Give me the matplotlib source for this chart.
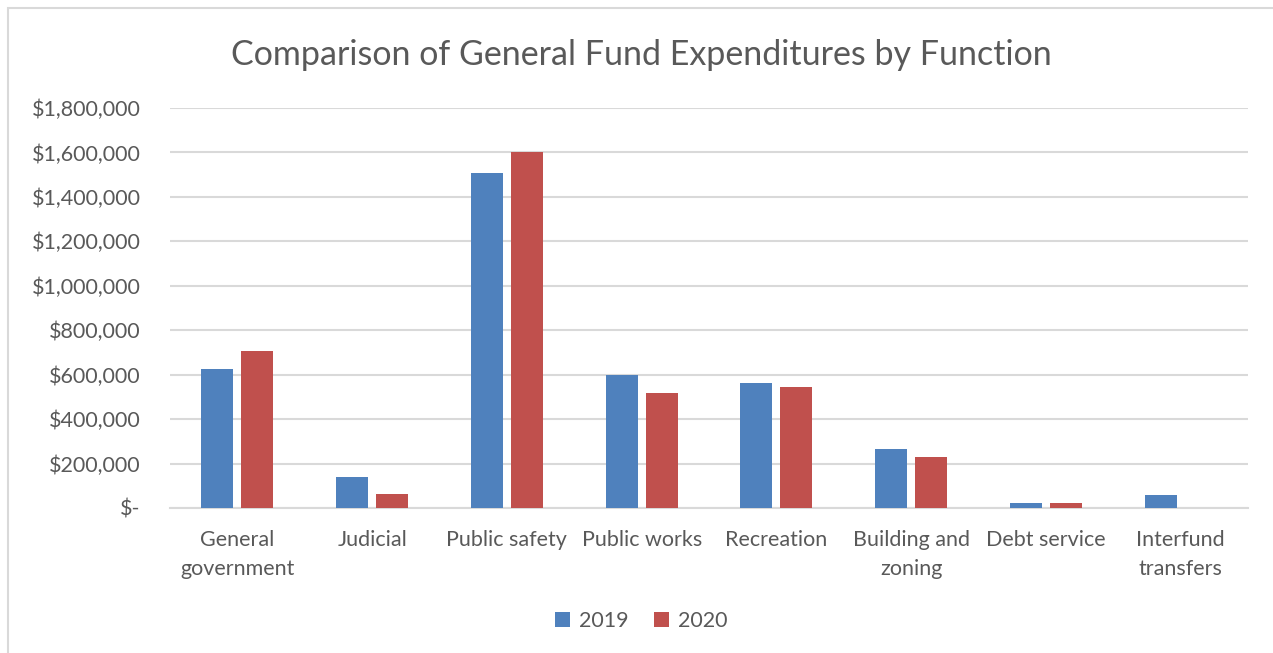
import numpy as np
import matplotlib
matplotlib.use("Agg")
import matplotlib.pyplot as plt
from matplotlib.patches import Rectangle
from matplotlib.ticker import FuncFormatter

plt.rcParams['font.family'] = ['Lato', 'DejaVu Sans']

TEXT = "#595959"
GRID = "#D9D9D9"
BLUE = "#4F81BD"
RED = "#C0504D"

categories = ["General\ngovernment", "Judicial", "Public safety", "Public works",
              "Recreation", "Building and\nzoning", "Debt service", "Interfund\ntransfers"]
y2019 = [626000, 141000, 1506000, 599000, 564000, 264000, 24000, 59000]
y2020 = [708000, 62000, 1604000, 517000, 544000, 229000, 24000, 0]
series_names = ["2019", "2020"]

fig = plt.figure(figsize=(12.73, 6.53), dpi=100)
fig.patch.set_facecolor("white")

# chart border (extends past right/bottom edge like the screenshot)
fig.add_artist(Rectangle((8 / 1273, -0.1), 1.2, 1 - 8 / 653 + 0.1,
                         transform=fig.transFigure, fill=False,
                         edgecolor=GRID, lw=1.5))

ax = fig.add_axes([170 / 1273, 1 - 508 / 653, (1248 - 170) / 1273, 400 / 653])

x = np.arange(len(categories))
w = 0.237
off = 0.148
ax.bar(x - off, y2019, w, color=BLUE, label=series_names[0], zorder=3)
ax.bar(x + off, y2020, w, color=RED, label=series_names[1], zorder=3)

ax.set_xlim(-0.5, len(categories) - 0.5)
ax.set_ylim(0, 1800000)
ax.set_yticks(np.arange(0, 1800001, 200000))
ax.yaxis.set_major_formatter(FuncFormatter(
    lambda v, p: "$-" if v == 0 else f"${v:,.0f}"))
ax.grid(axis='y', color=GRID, lw=1.5, zorder=0)
ax.set_axisbelow(True)

for s in ['top', 'right', 'left']:
    ax.spines[s].set_visible(False)
ax.spines['bottom'].set_color(GRID)
ax.spines['bottom'].set_linewidth(1.5)

ax.set_xticks(x)
ax.set_xticklabels(categories, fontsize=15.5, color=TEXT, linespacing=1.55)
ax.tick_params(axis='x', length=0, pad=16)
ax.tick_params(axis='y', length=0, pad=21, labelsize=15.5, labelcolor=TEXT)
for lab in ax.get_xticklabels():
    lab.set_verticalalignment('top')

fig.text(641 / 1273, 1 - 55 / 653, "Comparison of General Fund Expenditures by Function",
         ha='center', va='center', fontsize=24.5, color=TEXT)

fig.legend(loc='center', bbox_to_anchor=(641 / 1273, 1 - 621 / 653), ncol=2,
           frameon=False, fontsize=15.5, labelcolor=TEXT, handlelength=0.7,
           handleheight=0.7, handletextpad=0.4, columnspacing=1.2)

fig.savefig("out.png", dpi=100, facecolor="white")
